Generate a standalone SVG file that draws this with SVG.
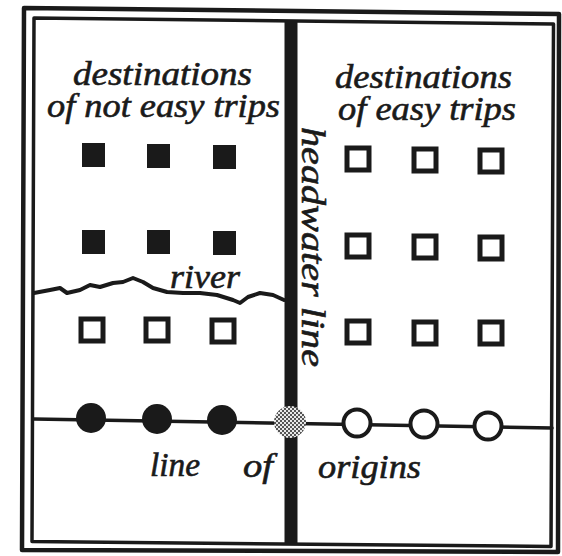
<svg xmlns="http://www.w3.org/2000/svg" width="562" height="556" viewBox="0 0 562 556">
<style>
.t{font-family:"Liberation Serif","Times New Roman",serif;font-style:italic;font-size:33px;fill:#1a1a1a;stroke:#1a1a1a;stroke-width:0.6}
.fs{fill:#1a1a1a}
.os{fill:#fff;stroke:#1a1a1a;stroke-width:5}
.fc{fill:#1a1a1a}
.oc{fill:#fff;stroke:#1a1a1a;stroke-width:4}
.ln{fill:none;stroke:#1a1a1a;stroke-linejoin:round;stroke-linecap:round}
</style>
<defs>
<pattern id="chk" width="4" height="4" patternUnits="userSpaceOnUse">
<rect width="4" height="4" fill="#e8e8e8"/>
<rect width="2" height="2" fill="#555"/>
<rect x="2" y="2" width="2" height="2" fill="#555"/>
</pattern>
</defs>
<rect width="562" height="556" fill="#fff"/>
<g id="frame">
<path class="ln" d="M24,8 L559,14 L558,552 L22,550 Z" stroke-width="4.5"/>
<path class="ln" d="M34,18 L553.5,24 L551,546.5 L32,541.5 Z" stroke-width="3.5"/>
</g>
<g id="connectors">
<path id="headwater-bar" d="M291,20 L291,544" stroke="#1a1a1a" stroke-width="13" fill="none"/>
<path id="origin-line" class="ln" d="M34,419 L552,428" stroke-width="3.5"/>
<path id="river-line" class="ln" stroke-width="4" d="M34,293 L50,290 L60,288 L67,293 L80,290 L90,285 L100,287 L113,283 L123,282 L133,278 L143,282 L153,288 L167,292 L183,293 L200,293 L217,295 L233,300 L240,303 L248,297 L260,293 L273,295 L284,300"/>
</g>
<g id="labels">
<text class="t" x="73" y="85" textLength="179" lengthAdjust="spacingAndGlyphs">destinations</text>
<text class="t" x="47" y="117" textLength="233" lengthAdjust="spacingAndGlyphs">of not easy trips</text>
<text class="t" x="335" y="88" textLength="177" lengthAdjust="spacingAndGlyphs">destinations</text>
<text class="t" x="338" y="120" textLength="178" lengthAdjust="spacingAndGlyphs">of easy trips</text>
<text class="t" x="170" y="288" textLength="70" lengthAdjust="spacingAndGlyphs">river</text>
<text class="t" transform="translate(302,127) rotate(90)" x="0" y="0" textLength="240" lengthAdjust="spacingAndGlyphs">headwater line</text>
<text class="t" x="150" y="476" textLength="50" lengthAdjust="spacingAndGlyphs">line</text>
<text class="t" x="243" y="477" textLength="30" lengthAdjust="spacingAndGlyphs">of</text>
<text class="t" x="318" y="478" textLength="103" lengthAdjust="spacingAndGlyphs">origins</text>
</g>
<g id="dest-not-easy">
<rect id="d1" class="fs" x="82" y="143" width="23" height="24"/>
<rect id="d2" class="fs" x="147" y="144" width="23" height="24"/>
<rect id="d3" class="fs" x="213" y="145" width="23" height="24"/>
<rect id="d4" class="fs" x="82" y="230" width="23" height="24"/>
<rect id="d5" class="fs" x="147" y="230" width="23" height="24"/>
<rect id="d6" class="fs" x="213" y="231" width="23" height="24"/>
</g>
<g id="dest-easy">
<rect id="e1" class="os" x="81" y="319" width="22" height="22"/>
<rect id="e2" class="os" x="146" y="319" width="22" height="22"/>
<rect id="e3" class="os" x="212" y="320" width="22" height="22"/>
<rect id="e4" class="os" x="347" y="148" width="22" height="22"/>
<rect id="e5" class="os" x="414" y="149" width="22" height="22"/>
<rect id="e6" class="os" x="480" y="150" width="22" height="22"/>
<rect id="e7" class="os" x="347" y="235" width="22" height="22"/>
<rect id="e8" class="os" x="414" y="236" width="22" height="22"/>
<rect id="e9" class="os" x="480" y="237" width="22" height="22"/>
<rect id="e10" class="os" x="347" y="321" width="22" height="22"/>
<rect id="e11" class="os" x="414" y="322" width="22" height="22"/>
<rect id="e12" class="os" x="480" y="322" width="22" height="22"/>
</g>
<g id="origins">
<circle id="o1" class="fc" cx="91" cy="418" r="15"/>
<circle id="o2" class="fc" cx="157" cy="419" r="15"/>
<circle id="o3" class="fc" cx="222" cy="420" r="15"/>
<circle id="o4" fill="url(#chk)" cx="290" cy="422" r="16"/>
<circle id="o5" class="oc" cx="357" cy="423" r="13.5"/>
<circle id="o6" class="oc" cx="424" cy="424" r="13.5"/>
<circle id="o7" class="oc" cx="488" cy="426" r="13.5"/>
</g>
</svg>
